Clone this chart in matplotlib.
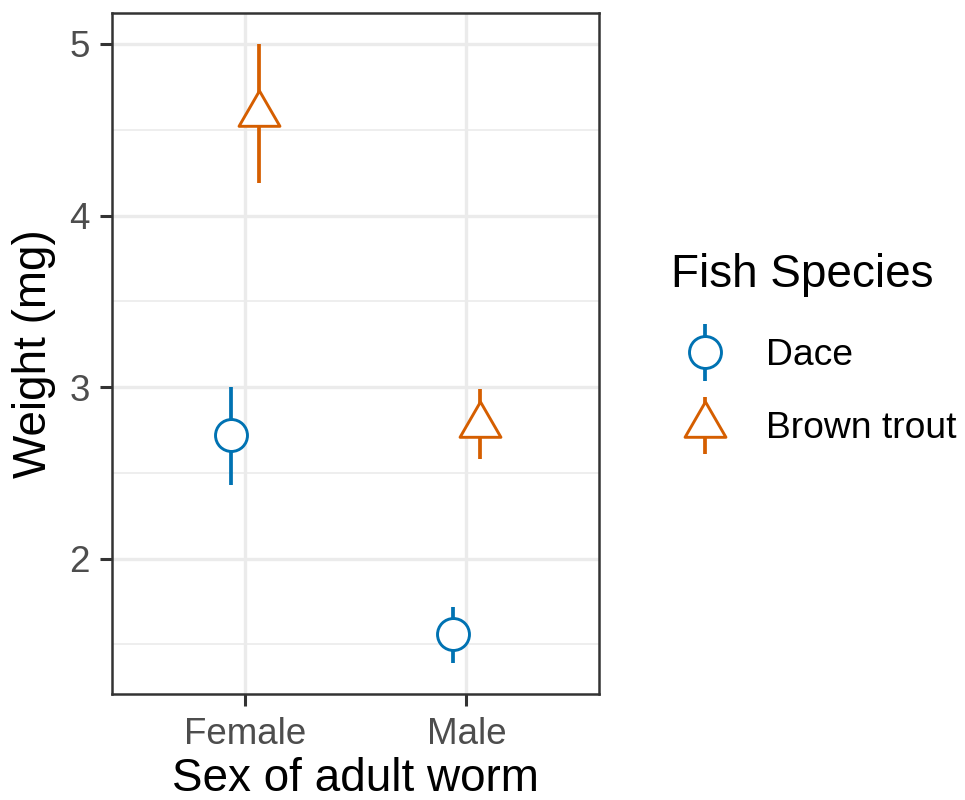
import matplotlib
matplotlib.use("Agg")
import matplotlib.pyplot as plt
import numpy as np
from matplotlib.path import Path
from matplotlib.markers import MarkerStyle
from matplotlib.ticker import MultipleLocator
from matplotlib.container import ErrorbarContainer
from matplotlib.legend_handler import HandlerErrorbar

# Mean adult worm weight (mg) with interval bounds, by worm sex and host fish
sexes = ["Female", "Male"]
species = ["Dace", "Brown trout"]

dace_mean = [2.72, 1.56]
dace_low = [2.43, 1.39]
dace_high = [3.00, 1.72]

trout_mean = [4.59, 2.78]
trout_low = [4.19, 2.58]
trout_high = [5.00, 2.99]

colors = {"Dace": "#0072B2", "Brown trout": "#D55E00"}

plt.rcParams["font.family"] = ["Liberation Sans", "DejaVu Sans"]

W, H = 965, 800
fig = plt.figure(figsize=(W / 100, H / 100), dpi=100)
ax = fig.add_axes([112.3 / W, 1 - 694.3 / H, (599.3 - 112.3) / W, (694.3 - 13.0) / H])

# Triangle whose centroid sits on the data point
tri_path = Path([(0, 1), (-0.866, -0.5), (0.866, -0.5), (0, 1)],
                [Path.MOVETO, Path.LINETO, Path.LINETO, Path.CLOSEPOLY])
tri_marker = MarkerStyle(tri_path, joinstyle="miter")

x = np.arange(1, len(sexes) + 1)
dodge = 0.0625

series = [
    ("Dace", dace_mean, dace_low, dace_high, -dodge, "o", 23),
    ("Brown trout", trout_mean, trout_low, trout_high, dodge, tri_marker, 34),
]

handles = []
for name, mean, low, high, off, mk, ms in series:
    mean = np.asarray(mean)
    yerr = [mean - np.asarray(low), np.asarray(high) - mean]
    eb = ax.errorbar(x + off, mean, yerr=yerr,
                     linestyle="none", marker=mk, markersize=ms,
                     markerfacecolor="white", markeredgecolor=colors[name],
                     markeredgewidth=2.1, ecolor=colors[name],
                     elinewidth=2.7, capsize=0, zorder=3, label=name)
    handles.append(eb)

# Axis limits: discrete x with 0.6 padding, y with 5% expansion
all_low = min(dace_low + trout_low)
all_high = max(dace_high + trout_high)
pad = 0.05 * (all_high - all_low)
ax.set_ylim(all_low - pad, all_high + pad)
ax.set_xlim(0.4, len(sexes) + 0.6)

ax.set_xticks(x, sexes)
ax.set_yticks([2, 3, 4, 5])
ax.yaxis.set_minor_locator(MultipleLocator(0.5))

ax.grid(which="major", color="#EBEBEB", linewidth=2.4)
ax.grid(which="minor", axis="y", color="#EBEBEB", linewidth=1.2)
ax.set_axisbelow(True)

for sp in ax.spines.values():
    sp.set_color("#333333")
    sp.set_linewidth(1.8)

ax.tick_params(which="major", length=8.9, width=2.2, color="#333333",
               labelsize=26.5, labelcolor="#4D4D4D", pad=7.5)
ax.tick_params(which="minor", length=0)

ax.set_xlabel("Sex of adult worm", fontsize=33)
ax.set_ylabel("Weight (mg)", fontsize=33)
ax.xaxis.set_label_coords(0.5, (694.3 - 757) / 681.3)
ax.yaxis.set_label_coords((55.5 - 112.3) / 487.0, 0.5)

leg = ax.legend(handles, species, loc="upper left",
                bbox_to_anchor=(671 / W, 1 - 253.3 / H),
                bbox_transform=fig.transFigure, frameon=False,
                borderpad=0, borderaxespad=0, title="Fish Species",
                title_fontsize=33, fontsize=26.8, alignment="left",
                handlelength=1.81, handletextpad=0.75, labelspacing=1.02,
                numpoints=1,
                handler_map={ErrorbarContainer: HandlerErrorbar(yerr_size=0.77)})
# a little more room between the legend title and its entries
leg._legend_box.sep = 1.02 * 26.8 + 2.2

fig.savefig("out.png", dpi=100)
